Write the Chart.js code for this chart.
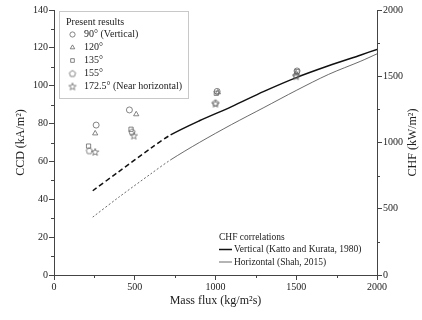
<!DOCTYPE html>
<html>
<head>
<meta charset="utf-8">
<script src="https://cdn.jsdelivr.net/npm/chart.js@4.4.1/dist/chart.umd.min.js"></script>
<style>
  html, body { margin: 0; padding: 0; background: #fff; }
</style>
</head>
<body>
<canvas id="ccdChart" width="422" height="320"></canvas>
<script>
// data
var angleLabels = ['90\u00b0 (Vertical)', '120\u00b0', '135\u00b0', '155\u00b0', '172.5\u00b0 (Near horizontal)'];

var flux90 = [261, 467, 1010, 1505];
var ccd90 = [79.2, 87.2, 97.0, 107.8];
var flux120 = [255, 509, 1015, 1500];
var ccd120 = [74.8, 84.9, 96.5, 106.5];
var flux135 = [214, 477, 1005, 1505];
var ccd135 = [68.1, 77.0, 96.0, 107.5];
var flux155 = [219, 483, 1000, 1500];
var ccd155 = [65.7, 75.7, 91.0, 105.5];
var flux172 = [255, 494, 1000, 1500];
var ccd172 = [65.0, 73.6, 90.5, 105.0];

var corrLabels = ['Vertical (Katto and Kurata, 1980)', 'Horizontal (Shah, 2015)'];
var corrFlux = [240, 400, 600, 722, 900, 1100, 1300, 1500, 1700, 1900, 2000];
var chfKatto = [636, 779, 957, 1057, 1164, 1271, 1386, 1490, 1579, 1661, 1703];
var chfShah = [437, 586, 764, 869, 1000, 1136, 1264, 1393, 1514, 1614, 1669];
var extrapolatedBelow = 722;

var serif = '"Liberation Serif", "DejaVu Serif", serif';
var markColor = '#666';

function pts(xs, ys) {
  return xs.map(function (x, i) { return { x: x, y: ys[i] }; });
}

// pentagon and star marks are drawn into small canvases
function shapeCanvas(kind) {
  var c = document.createElement('canvas');
  c.width = 10; c.height = 10;
  var g = c.getContext('2d');
  g.strokeStyle = markColor;
  g.lineWidth = 0.8;
  g.beginPath();
  var n = kind === 'star' ? 10 : 5;
  for (var i = 0; i < n; i++) {
    var a = -Math.PI / 2 + i * 2 * Math.PI / n;
    var r = kind === 'star' ? (i % 2 ? 1.6 : 3.8) : 3.3;
    var px = 5 + r * Math.cos(a), py = 5.3 + r * Math.sin(a);
    if (i === 0) g.moveTo(px, py); else g.lineTo(px, py);
  }
  g.closePath();
  g.stroke();
  return c;
}
var pentagon = shapeCanvas('pentagon');
var star = shapeCanvas('star');

function markSet(label, data, style) {
  return {
    type: 'scatter',
    label: label,
    data: data,
    yAxisID: 'y',
    pointStyle: style,
    pointRadius: 3,
    pointBorderWidth: 0.8,
    pointBorderColor: markColor,
    pointBackgroundColor: 'rgba(0,0,0,0)',
    showLine: false,
    group: 'present'
  };
}

function corrSet(label, data, width, color, dash) {
  return {
    type: 'line',
    label: label,
    data: data,
    yAxisID: 'y2',
    borderColor: color,
    borderWidth: width,
    pointRadius: 0,
    tension: 0.3,
    fill: false,
    group: 'corr',
    segment: {
      borderDash: function (ctx) {
        return ctx.p0.parsed.x < extrapolatedBelow ? dash : undefined;
      }
    }
  };
}

var datasets = [
  markSet(angleLabels[0], pts(flux90, ccd90), 'circle'),
  markSet(angleLabels[1], pts(flux120, ccd120), 'triangle'),
  markSet(angleLabels[2], pts(flux135, ccd135), 'rect'),
  markSet(angleLabels[3], pts(flux155, ccd155), pentagon),
  markSet(angleLabels[4], pts(flux172, ccd172), star),
  corrSet(corrLabels[0], pts(corrFlux, chfKatto), 1.5, '#111', [5, 3]),
  corrSet(corrLabels[1], pts(corrFlux, chfShah), 0.8, '#444', [2, 2])
];

// minor ticks, axis titles and the two in-plot legends
var extras = {
  id: 'extras',
  afterDraw: function (chart) {
    var ctx = chart.ctx;
    var a = chart.chartArea;
    var sx = chart.scales.x, sy = chart.scales.y, sy2 = chart.scales.y2;
    ctx.save();
    ctx.strokeStyle = '#444';
    ctx.lineWidth = 1;
    ctx.beginPath();
    for (var v = 250; v < 2000; v += 500) {
      var px = Math.round(sx.getPixelForValue(v)) + 0.5;
      ctx.moveTo(px, a.bottom); ctx.lineTo(px, a.bottom + 3);
    }
    for (var w = 10; w < 140; w += 20) {
      var py = Math.round(sy.getPixelForValue(w)) + 0.5;
      ctx.moveTo(a.left, py); ctx.lineTo(a.left - 3, py);
    }
    for (var q = 250; q < 2000; q += 500) {
      var py2 = Math.round(sy2.getPixelForValue(q)) + 0.5;
      ctx.moveTo(a.right, py2); ctx.lineTo(a.right + 3, py2);
    }
    ctx.stroke();

    // axis titles
    ctx.fillStyle = '#222';
    ctx.font = '12px ' + serif;
    ctx.textAlign = 'center';
    ctx.textBaseline = 'middle';
    ctx.fillText('Mass flux (kg/m\u00b2s)', (a.left + a.right) / 2, 301);
    ctx.save();
    ctx.translate(21, (a.top + a.bottom) / 2);
    ctx.rotate(-Math.PI / 2);
    ctx.fillText('CCD (kA/m\u00b2)', 0, 0);
    ctx.restore();
    ctx.save();
    ctx.translate(413, (a.top + a.bottom) / 2);
    ctx.rotate(-Math.PI / 2);
    ctx.fillText('CHF (kW/m\u00b2)', 0, 0);
    ctx.restore();

    // present results legend
    ctx.strokeStyle = '#c8c8c8';
    ctx.lineWidth = 1;
    ctx.strokeRect(59.5, 11.5, 129, 87);
    ctx.font = '10px ' + serif;
    ctx.textAlign = 'left';
    ctx.fillStyle = '#222';
    ctx.fillText('Present results', 66, 22.5);
    var k = 0;
    chart.data.datasets.forEach(function (ds) {
      if (ds.group !== 'present') return;
      var y = 34.5 + 13 * k;
      ctx.strokeStyle = markColor;
      ctx.fillStyle = 'rgba(0,0,0,0)';
      ctx.lineWidth = 0.8;
      Chart.helpers.drawPoint(ctx, { pointStyle: ds.pointStyle, radius: 2.6, borderWidth: 0.8, rotation: 0 }, 72.5, y);
      ctx.fillStyle = '#222';
      ctx.fillText(ds.label, 84, y);
      k++;
    });

    // correlations legend
    ctx.font = '9.5px ' + serif;
    ctx.fillText('CHF correlations', 219, 237);
    var m = 0;
    chart.data.datasets.forEach(function (ds) {
      if (ds.group !== 'corr') return;
      var y = 249.5 + 12.5 * m;
      ctx.strokeStyle = ds.borderColor;
      ctx.lineWidth = ds.borderWidth;
      ctx.setLineDash([]);
      ctx.beginPath();
      ctx.moveTo(219, y); ctx.lineTo(232, y);
      ctx.stroke();
      ctx.fillStyle = '#222';
      ctx.fillText(ds.label, 234, y);
      m++;
    });
    ctx.restore();
  }
};

function fixedWidth(w) {
  return function (scale) { scale.width = w; };
}
function plain(v) { return String(v); }

var axisGrid = { drawOnChartArea: false, drawTicks: true, tickLength: 5, tickColor: '#444' };
var axisBorder = { display: true, color: '#444', width: 1 };
var tickFont = { family: serif, size: 10 };

new Chart(document.getElementById('ccdChart'), {
  type: 'scatter',
  data: { datasets: datasets },
  plugins: [extras],
  options: {
    responsive: false,
    animation: false,
    layout: { padding: { top: 10, left: 0, right: 0, bottom: 0 } },
    plugins: { legend: { display: false }, tooltip: { enabled: false } },
    scales: {
      x: {
        type: 'linear', min: 0, max: 2000,
        grid: axisGrid, border: axisBorder,
        afterFit: function (scale) { scale.height = 45; },
        ticks: { stepSize: 500, color: '#222', font: tickFont, padding: 1, maxRotation: 0, callback: plain }
      },
      y: {
        position: 'left', min: 0, max: 140,
        grid: axisGrid, border: axisBorder,
        afterFit: fixedWidth(54),
        ticks: { stepSize: 20, color: '#222', font: tickFont, padding: 1, callback: plain }
      },
      y2: {
        position: 'right', min: 0, max: 2000,
        grid: axisGrid, border: axisBorder,
        afterFit: fixedWidth(45),
        ticks: { stepSize: 500, color: '#222', font: tickFont, padding: 1, callback: plain }
      }
    }
  }
});
</script>
</body>
</html>
